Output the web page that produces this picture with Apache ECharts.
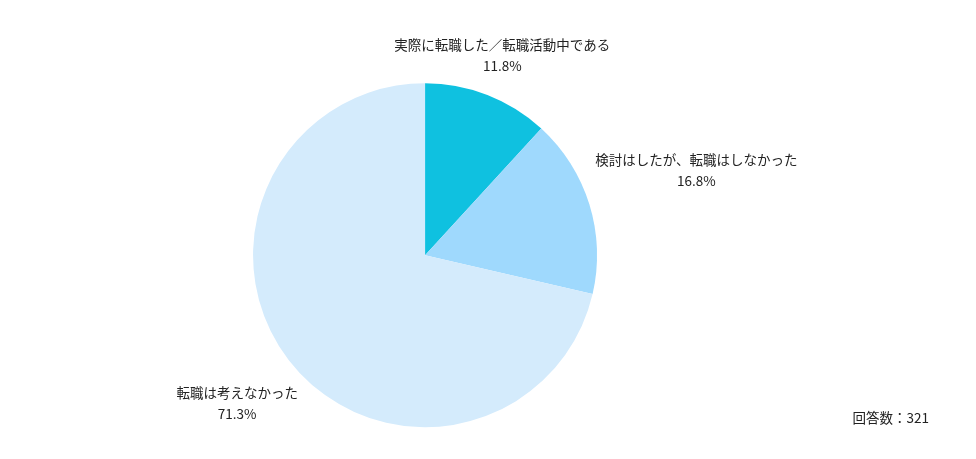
<!DOCTYPE html>
<html>
<head>
<meta charset="utf-8">
<style>
  html, body { margin: 0; padding: 0; background: #fff; }
  #chart { width: 976px; height: 459px; }
</style>
<script src="https://cdn.jsdelivr.net/npm/echarts@6/dist/echarts.min.js"></script>
</head>
<body>
<div id="chart"></div>
<script>
// データ
const names = ['実際に転職した／転職活動中である', '検討はしたが、転職はしなかった', '転職は考えなかった'];
const values = [11.8, 16.8, 71.3];
const colors = ['#0fc1e0', '#9fd9fd', '#d4ebfc'];
const labelLens = [41, 112, 68];  // ラベルの距離（円の外側）
const total = '回答数：321';

const font = '"Noto Sans CJK JP", "Noto Sans", sans-serif';
const chart = echarts.init(document.getElementById('chart'));

chart.setOption({
  animation: false,
  title: {
    text: total,
    right: 42,
    bottom: 29,
    textStyle: { fontSize: 13.5, fontWeight: 'normal', color: '#222', fontFamily: font }
  },
  series: [{
    type: 'pie',
    center: ['43.55%', '55.6%'],
    radius: 172,
    startAngle: 90,
    clockwise: true,
    itemStyle: { borderWidth: 0 },
    emphasis: { disabled: true },
    label: {
      show: true,
      position: 'outside',
      fontSize: 13.5,
      lineHeight: 21,
      color: '#222',
      fontFamily: font,
      formatter: p => p.name + '\n' + p.value.toFixed(1) + '%'
    },
    labelLine: { show: true, length2: 0, lineStyle: { opacity: 0 } },
    labelLayout: function (params) {
      const pts = params.labelLinePoints;
      if (!pts) return {};
      return { x: pts[1][0], y: pts[1][1] - 1, align: 'center', verticalAlign: 'middle' };
    },
    data: names.map((n, i) => ({
      name: n,
      value: values[i],
      itemStyle: { color: colors[i] },
      labelLine: { length: labelLens[i] }
    }))
  }]
});
</script>
</body>
</html>
